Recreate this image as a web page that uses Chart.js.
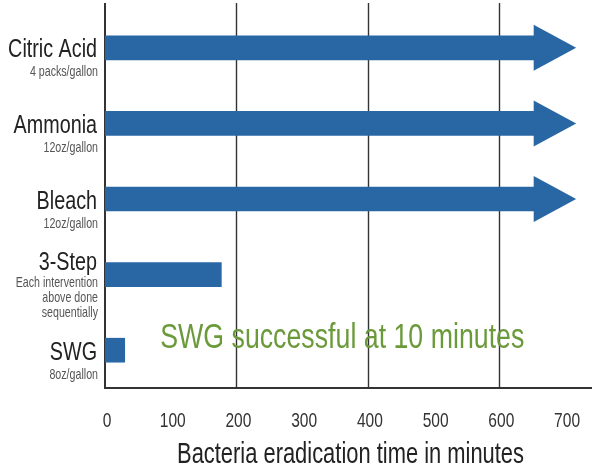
<!DOCTYPE html>
<html>
<head>
<meta charset="utf-8">
<script src="https://cdn.jsdelivr.net/npm/chart.js@4"></script>
<style>
html,body{margin:0;padding:0;background:#fff;}
#wrap{width:592px;height:470px;}
</style>
</head>
<body>
<div id="wrap"><canvas id="c" width="592" height="470"></canvas></div>
<script>
const categories = ['Citric Acid', 'Ammonia', 'Bleach', '3-Step', 'SWG'];
const subtitles = [['4 packs/gallon'], ['12oz/gallon'], ['12oz/gallon'], ['Each intervention', 'above done', 'sequentially'], ['8oz/gallon']];
const minutes = [653, 653, 653, 177, 30];
const continuesPastAxis = [true, true, true, false, false];
const xTicks = [0, 100, 200, 300, 400, 500, 600, 700];
const gridValues = [200, 400, 600];
const note = 'SWG successful at 10 minutes';
const xTitle = 'Bacteria eradication time in minutes';

const FONT = '"Liberation Sans", Arial, sans-serif';
const BLUE = '#2867a4';
const LINE = '#333333';

function txt(ctx, s, x, y, size, color, align, sx) {
  ctx.save();
  ctx.translate(x, y);
  ctx.scale(sx, 1);
  ctx.font = size + 'px ' + FONT;
  ctx.fillStyle = color;
  ctx.textAlign = align;
  ctx.textBaseline = 'alphabetic';
  ctx.fillText(s, 0, 0);
  ctx.restore();
}

const overlay = {
  id: 'overlay',
  beforeDatasetsDraw(chart) {
    const ctx = chart.ctx;
    const xs = chart.scales.x;
    const top = chart.chartArea.top - 7, bottom = chart.chartArea.bottom;
    ctx.save();
    ctx.strokeStyle = LINE;
    [0].concat(gridValues).forEach(v => {
      const px = Math.round(xs.getPixelForValue(v)) + (v === 0 ? 0 : 0.5);
      ctx.lineWidth = v === 0 ? 2 : 1.4;
      ctx.beginPath();
      ctx.moveTo(px, top);
      ctx.lineTo(px, bottom);
      ctx.stroke();
    });
    ctx.restore();
  },
  afterDatasetsDraw(chart) {
    const ctx = chart.ctx;
    const meta = chart.getDatasetMeta(0);
    ctx.save();
    ctx.fillStyle = BLUE;
    meta.data.forEach((bar, i) => {
      if (!continuesPastAxis[i]) return;
      const x = bar.x, y = bar.y;
      ctx.beginPath();
      ctx.moveTo(x - 0.5, y - 23);
      ctx.lineTo(x + 42, y);
      ctx.lineTo(x - 0.5, y + 23);
      ctx.closePath();
      ctx.fill();
    });
    ctx.restore();
  },
  afterDraw(chart) {
    const ctx = chart.ctx;
    const xs = chart.scales.x, ys = chart.scales.y;
    // category labels
    const rx = xs.left - 8;
    categories.forEach((name, i) => {
      const y = ys.getPixelForValue(i);
      const subs = subtitles[i];
      const n = subs.length - 1;
      txt(ctx, name, rx, y + 9.5 - n * 7, 25, '#222222', 'right', 0.79);
      subs.forEach((s, k) => {
        txt(ctx, s, rx + 1, y + 28.5 - n * 8 + k * 15, 15, '#555555', 'right', 0.71);
      });
    });
    // x tick labels
    xTicks.forEach(v => {
      txt(ctx, String(v), xs.getPixelForValue(v) + 2, xs.top + 39, 21, '#333333', 'center', 0.74);
    });
    // x title
    txt(ctx, xTitle, (xs.left + xs.right) / 2 + 2, xs.top + 74.5, 30, '#222222', 'center', 0.73);
    // annotation
    txt(ctx, note, xs.getPixelForValue(84), ys.getPixelForValue(4) - 2, 35, '#6b9a3b', 'left', 0.764);
  }
};

new Chart(document.getElementById('c'), {
  type: 'bar',
  data: {
    labels: categories,
    datasets: [{
      data: minutes,
      backgroundColor: BLUE,
      borderWidth: 0,
      barThickness: 24
    }]
  },
  options: {
    indexAxis: 'y',
    responsive: false,
    animation: false,
    devicePixelRatio: 1,
    layout: { padding: { left: 105, right: 0, top: 10, bottom: 0 } },
    plugins: { legend: { display: false }, tooltip: { enabled: false } },
    scales: {
      y: {
        type: 'category',
        ticks: { display: false },
        grid: { display: false, drawTicks: false },
        border: { display: false },
        afterFit(s) { s.width = 0; }
      },
      x: {
        type: 'linear',
        min: 0,
        max: 741,
        afterBuildTicks(s) { s.ticks = xTicks.map(v => ({ value: v })); },
        ticks: { display: false },
        grid: { display: false, drawTicks: false },
        border: { display: true, color: LINE, width: 2 },
        title: { display: false, text: xTitle },
        afterFit(s) { s.height = 82; }
      }
    }
  },
  plugins: [overlay]
});
</script>
</body>
</html>
